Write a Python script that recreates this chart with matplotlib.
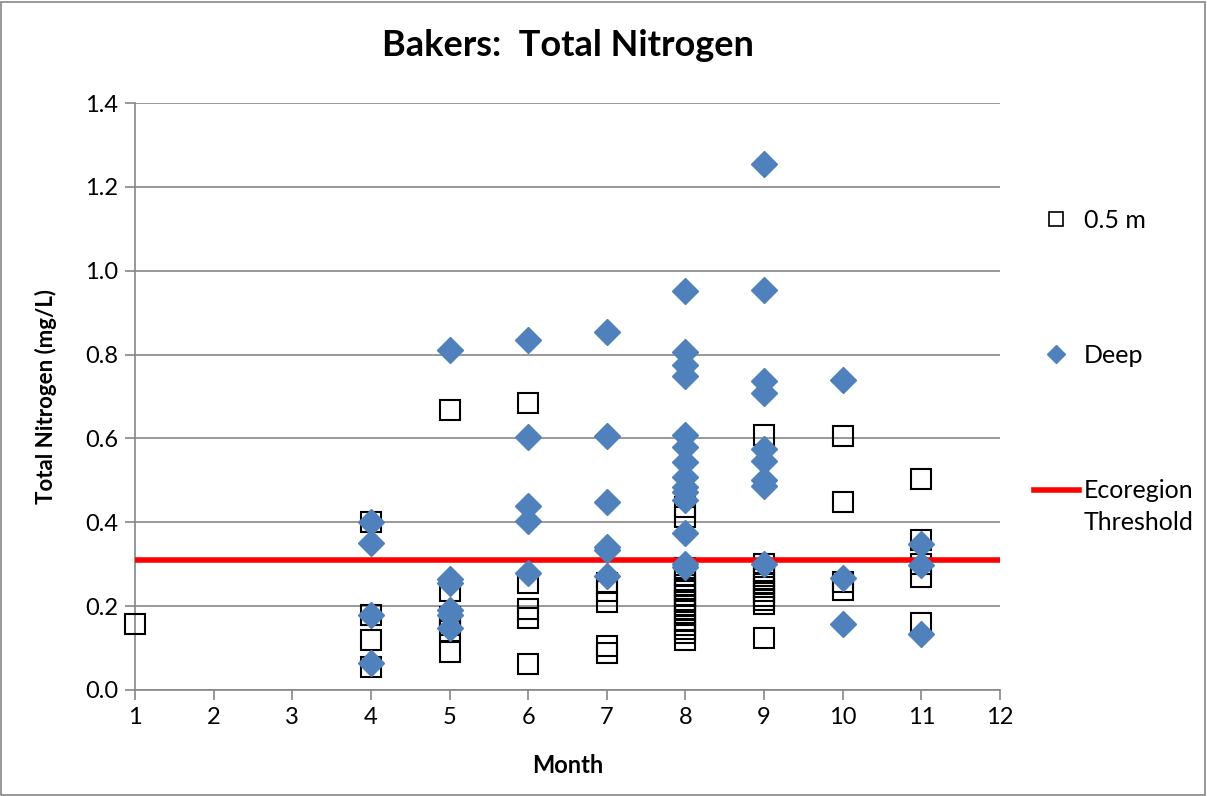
import matplotlib.pyplot as plt
from matplotlib.lines import Line2D
from matplotlib.patches import Rectangle

plt.rcParams['font.family'] = ['Lato', 'DejaVu Sans']

# 0.5 m samples (month, total nitrogen)
surf_month = [1,
              4, 4, 4, 4,
              5, 5, 5, 5, 5, 5,
              6, 6, 6, 6, 6,
              7, 7, 7, 7, 7,
              8, 8, 8, 8, 8, 8, 8, 8, 8, 8, 8, 8, 8, 8, 8, 8, 8, 8, 8,
              9, 9, 9, 9, 9, 9, 9, 9, 9, 9, 9,
              10, 10, 10, 10,
              11, 11, 11, 11, 11]
surf_tn = [0.157,
           0.40, 0.18, 0.12, 0.055,
           0.668, 0.236, 0.175, 0.155, 0.14, 0.09,
           0.685, 0.255, 0.193, 0.172, 0.062,
           0.255, 0.235, 0.21, 0.105, 0.088,
           0.437, 0.412, 0.29, 0.275, 0.26, 0.25, 0.24, 0.235, 0.225, 0.215, 0.21,
           0.20, 0.19, 0.18, 0.165, 0.155, 0.145, 0.135, 0.12,
           0.607, 0.30, 0.28, 0.265, 0.255, 0.245, 0.235, 0.225, 0.215, 0.205, 0.124,
           0.606, 0.448, 0.258, 0.238,
           0.503, 0.358, 0.30, 0.27, 0.16]

# deep samples
deep_month = [4, 4, 4, 4,
              5, 5, 5, 5, 5, 5,
              6, 6, 6, 6, 6,
              7, 7, 7, 7, 7, 7,
              8, 8, 8, 8, 8, 8, 8, 8, 8, 8, 8, 8, 8, 8,
              9, 9, 9, 9, 9, 9, 9, 9, 9,
              10, 10, 10,
              11, 11, 11]
deep_tn = [0.40, 0.35, 0.18, 0.065,
           0.81, 0.265, 0.255, 0.19, 0.18, 0.147,
           0.835, 0.604, 0.44, 0.403, 0.279,
           0.853, 0.605, 0.448, 0.341, 0.335, 0.272,
           0.952, 0.806, 0.775, 0.749, 0.608, 0.58, 0.544, 0.508, 0.485, 0.472,
           0.453, 0.375, 0.30, 0.293,
           1.254, 0.955, 0.737, 0.709, 0.575, 0.545, 0.502, 0.487, 0.30,
           0.739, 0.267, 0.157,
           0.348, 0.298, 0.133]

threshold = 0.31
x_ticks = list(range(1, 13))
y_ticks = [0.0, 0.2, 0.4, 0.6, 0.8, 1.0, 1.2, 1.4]

fig = plt.figure(figsize=(12.07, 7.96), dpi=100)
ax = fig.add_axes([135 / 1207, 1 - 690 / 796, 865 / 1207, 587 / 796])

ax.plot(surf_month, surf_tn, 's', ms=14, mfc='none', mec='black', mew=1.5,
        zorder=3, clip_on=False)
ax.axhline(threshold, color='#ff0000', lw=4, zorder=3.5)
ax.plot(deep_month, deep_tn, 'D', ms=13, color='#4f81bd', mec='#4f81bd',
        zorder=4, clip_on=False)

ax.set_xlim(1, 12)
ax.set_ylim(0, 1.4)
ax.set_xticks(x_ticks)
ax.set_yticks(y_ticks)
ax.set_yticklabels(['%.1f' % v for v in y_ticks])
ax.yaxis.grid(True, color='#868686', lw=1.2)
ax.set_axisbelow(True)
for s in ['top', 'right']:
    ax.spines[s].set_visible(False)
for s in ['left', 'bottom']:
    ax.spines[s].set_color('#868686')
    ax.spines[s].set_linewidth(1.2)
ax.tick_params(axis='both', direction='out', length=7, color='#868686',
               width=1.2, labelsize=17, pad=5)

ax.set_xlabel('Month', fontsize=17, fontweight='bold', labelpad=19)
ax.set_ylabel('Total Nitrogen (mg/L)', fontsize=16, fontweight='bold', labelpad=20)
ax.set_title('Bakers:  Total Nitrogen', fontsize=26, fontweight='bold', pad=34)

handles = [Line2D([], [], ls='none', marker='s', ms=10, mfc='none', mec='black', mew=1.2),
           Line2D([], [], ls='none', marker='D', ms=9, color='#4f81bd'),
           Line2D([], [], color='#ff0000', lw=4)]
labels = ['0.5 m', 'Deep', 'Ecoregion']
leg = fig.legend(handles, labels, loc='upper left',
                 bbox_to_anchor=(1011 / 1207, 1 - 186 / 796),
                 frameon=False, fontsize=18, labelspacing=4.5, handlelength=1.8,
                 handletextpad=0.2)

# second line of the threshold label, under "Ecoregion"
fig.canvas.draw()
bb = leg.get_texts()[2].get_window_extent()
fig.text(bb.x0, bb.y0 - 32, 'Threshold', fontsize=18, ha='left', va='bottom',
         transform=None)

fig.add_artist(Rectangle((0.001, 0.001), 0.997, 0.997, transform=fig.transFigure,
                         fill=False, ec='#868686', lw=1.2))

fig.savefig('out.png', dpi=100)
